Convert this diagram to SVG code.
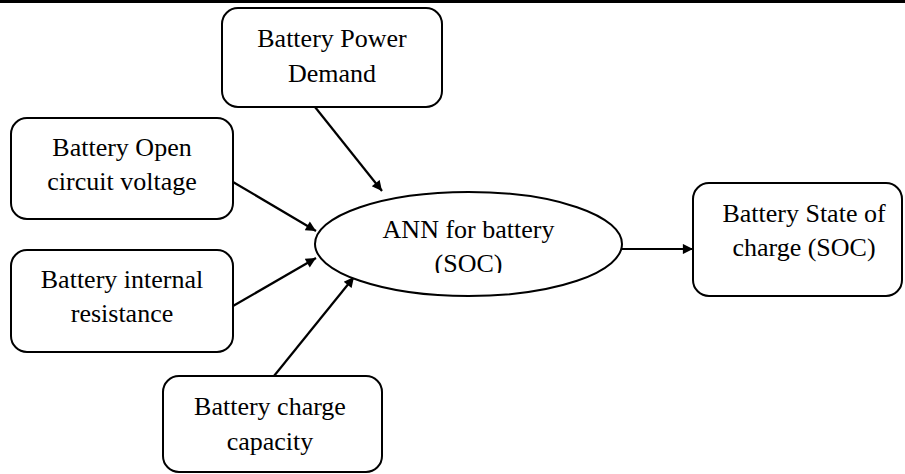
<svg xmlns="http://www.w3.org/2000/svg" width="905" height="474" viewBox="0 0 905 474">
<style>
.box{fill:#fff;stroke:#000;stroke-width:2}
.t{font-family:"Liberation Serif","Times New Roman",serif;font-size:26px;fill:#000;text-anchor:middle}
.c{stroke:#000;stroke-width:2.2;fill:none;marker-end:url(#ah)}
</style>
<defs>
<marker id="ah" viewBox="0 0 10 10" refX="10" refY="5" markerWidth="5.5" markerHeight="4.6" markerUnits="strokeWidth" orient="auto">
<path d="M0,0 L10,5 L0,10 z" fill="#000"/>
</marker>
<clipPath id="ellclip"><rect x="300" y="180" width="340" height="93"/></clipPath>
</defs>
<rect x="0" y="0" width="905" height="474" fill="#fff"/>
<rect x="0" y="0" width="905" height="3" fill="#000"/>
<g id="connectors">
<line class="c" x1="315" y1="107" x2="382" y2="191"/>
<line class="c" x1="233" y1="182" x2="316" y2="231"/>
<line class="c" x1="233" y1="306" x2="316" y2="258"/>
<line class="c" x1="274" y1="376" x2="354" y2="277"/>
<line class="c" x1="622" y1="249" x2="693" y2="249"/>
</g>
<g id="node-power">
<rect class="box" x="222" y="8" width="220" height="99" rx="16"/>
<text class="t" x="332" y="47">Battery Power</text>
<text class="t" x="332" y="82">Demand</text>
</g>
<g id="node-ocv">
<rect class="box" x="11" y="118" width="222" height="101" rx="16"/>
<text class="t" x="122" y="156">Battery Open</text>
<text class="t" x="122" y="190">circuit voltage</text>
</g>
<g id="node-resistance">
<rect class="box" x="11" y="250" width="222" height="102" rx="16"/>
<text class="t" x="122" y="288">Battery internal</text>
<text class="t" x="122" y="322">resistance</text>
</g>
<g id="node-capacity">
<rect class="box" x="163" y="376" width="219" height="96" rx="16"/>
<text class="t" x="270" y="415">Battery charge</text>
<text class="t" x="270" y="450">capacity</text>
</g>
<g id="node-ann">
<ellipse class="box" cx="468.5" cy="244" rx="153.5" ry="52"/>
<text class="t" x="468.5" y="238">ANN for battery</text>
<text class="t" x="468.5" y="272" clip-path="url(#ellclip)">(SOC)</text>
</g>
<g id="node-soc">
<rect class="box" x="693" y="183" width="209" height="113" rx="16"/>
<text class="t" x="804" y="222">Battery State of</text>
<text class="t" x="804" y="256">charge (SOC)</text>
</g>
</svg>
